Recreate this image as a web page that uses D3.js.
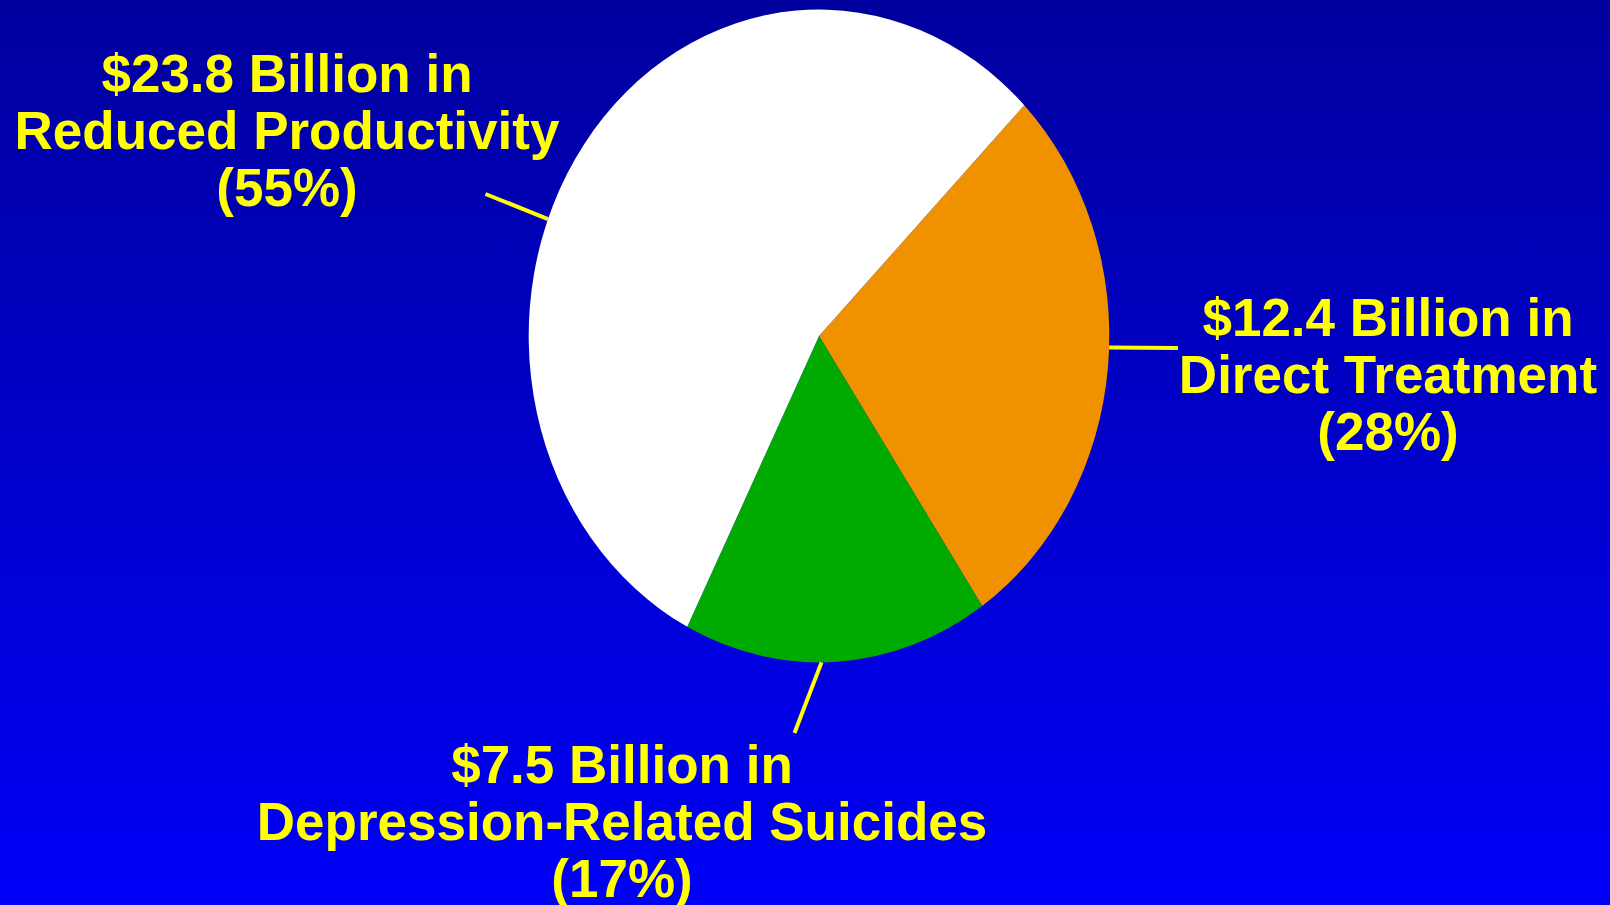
<!DOCTYPE html>
<html>
<head>
<meta charset="utf-8">
<script src="https://cdn.jsdelivr.net/npm/d3@7/dist/d3.min.js"></script>
<style>
  html, body { margin: 0; padding: 0; background: #0000c8; overflow: hidden; }
  svg { display: block; }
  text { font-family: "Liberation Sans", Arial, Helvetica, sans-serif; font-weight: bold; }
</style>
</head>
<body>
<svg id="chart" width="1610" height="905"></svg>
<script>
// ---- data ----
const categories = ["Direct Treatment", "Depression-Related Suicides", "Reduced Productivity"];
const billions = [12.4, 7.5, 23.8];
const percents = [28, 17, 55];
const sliceColors = ["#F09100", "#00AA00", "#FFFFFF"];
const labelLines = [
  ["$12.4 Billion in", "Direct Treatment", "(28%)"],
  ["$7.5 Billion in", "Depression-Related Suicides", "(17%)"],
  ["$23.8 Billion in", "Reduced Productivity", "(55%)"]
];

// ---- layout ----
const W = 1610, H = 905;
const cx = 819, cy = 336, rx = 290.3, ry = 326.4;
const startDeg = 45;
const fontSize = 53, lineGap = 57;
const labelLayout = [
  { x: 1388, y: 336, leaderDeg: 92,    leaderEnd: [1178, 348] },
  { x: 622,  y: 783, leaderDeg: 179.5, leaderEnd: [794.5, 733] },
  { x: 287,  y: 92,  leaderDeg: 291,   leaderEnd: [485.5, 194] }
];

const svg = d3.select("#chart");
const defs = svg.append("defs");
const grad = defs.append("linearGradient").attr("id", "bg")
  .attr("x1", 0).attr("y1", 0).attr("x2", 0).attr("y2", 1);
grad.append("stop").attr("offset", "0%").attr("stop-color", "#00009E");
grad.append("stop").attr("offset", "100%").attr("stop-color", "#0000F8");
svg.append("rect").attr("width", W).attr("height", H).attr("fill", "url(#bg)");

const data = categories.map((c, i) => ({ cat: c, billions: billions[i], pct: percents[i], color: sliceColors[i], lines: labelLines[i], layout: labelLayout[i] }));

const pie = d3.pie().sort(null).value(d => d.pct)
  .startAngle(startDeg * Math.PI / 180)
  .endAngle((startDeg + 360) * Math.PI / 180);
const arc = d3.arc().innerRadius(0).outerRadius(rx);

const g = svg.append("g").attr("transform", `translate(${cx},${cy}) scale(1,${ry / rx})`);
g.selectAll("path").data(pie(data)).join("path")
  .attr("d", arc)
  .attr("fill", d => d.data.color);

// leader lines
const ell = deg => {
  const a = deg * Math.PI / 180;
  return [cx + rx * Math.sin(a), cy - ry * Math.cos(a)];
};
svg.selectAll("line.leader").data(data).join("line")
  .attr("class", "leader")
  .attr("x1", d => ell(d.layout.leaderDeg)[0])
  .attr("y1", d => ell(d.layout.leaderDeg)[1])
  .attr("x2", d => d.layout.leaderEnd[0])
  .attr("y2", d => d.layout.leaderEnd[1])
  .attr("stroke", "#FFFF00")
  .attr("stroke-width", 4);

// labels
const labels = svg.selectAll("text.lbl").data(data).join("text")
  .attr("class", "lbl")
  .attr("text-anchor", "middle")
  .attr("font-size", fontSize)
  .attr("fill", "#FFFF00");
labels.selectAll("tspan").data(d => d.lines.map((t, j) => ({ t, j, L: d.layout }))).join("tspan")
  .attr("x", d => d.L.x)
  .attr("y", d => d.L.y + d.j * lineGap)
  .text(d => d.t);
</script>
</body>
</html>
